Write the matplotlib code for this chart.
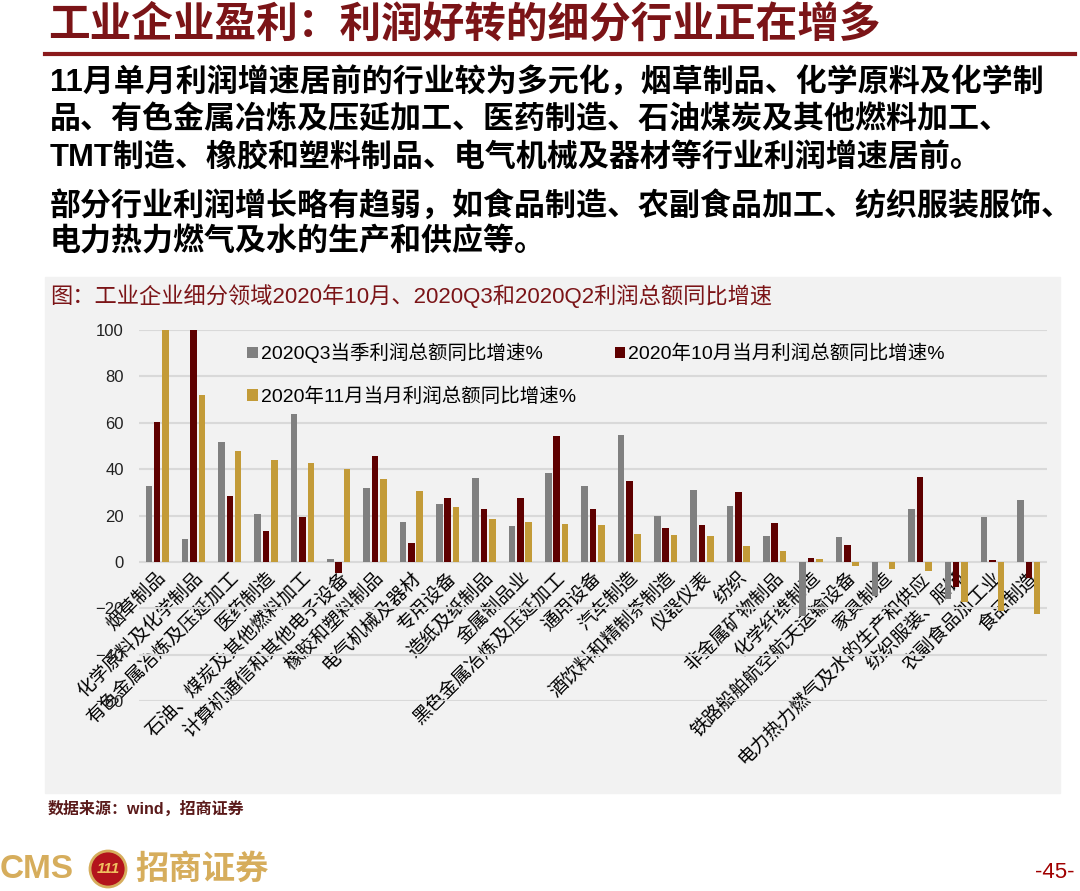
import matplotlib
matplotlib.use("Agg")
import matplotlib.pyplot as plt
import numpy as np
from matplotlib.patches import Rectangle, Ellipse

plt.rcParams['font.family'] = ['Liberation Sans', 'Noto Sans CJK SC', 'DejaVu Sans']

# 行业
industries = ["烟草制品", "化学原料及化学制品", "有色金属冶炼及压延加工", "医药制造",
              "石油、煤炭及其他燃料加工", "计算机通信和其他电子设备", "橡胶和塑料制品",
              "电气机械及器材", "专用设备", "造纸及纸制品", "金属制品业",
              "黑色金属冶炼及压延加工", "通用设备", "汽车制造", "酒饮料和精制茶制造",
              "仪器仪表", "纺织", "非金属矿物制品", "化学纤维制造",
              "铁路船舶航空航天运输设备", "家具制造", "电力热力燃气及水的生产和供应",
              "纺织服装、服饰", "农副食品加工业", "食品制造"]

# 2020Q3当季利润总额同比增速%
q3 = [32.8, 9.9, 51.9, 20.7, 63.8, 1.4, 32.0, 17.1, 25.1, 36.2, 15.4, 38.5, 32.9,
      54.7, 19.8, 31.0, 24.1, 11.2, -23.3, 10.9, -14.9, 22.8, -16.1, 19.5, 26.9]
# 2020年10月当月利润总额同比增速%
oct_ = [60.5, 100.0, 28.2, 13.5, 19.5, -4.9, 45.8, 8.0, 27.7, 22.7, 27.4, 54.5, 22.7,
        34.8, 14.4, 15.9, 30.0, 16.7, 1.7, 7.2, 0.0, 36.6, -10.8, 1.0, -6.8]
# 2020年11月当月利润总额同比增速%
nov = [100.0, 72.0, 47.8, 44.1, 42.5, 40.1, 35.8, 30.7, 23.7, 18.7, 17.2, 16.4, 15.9,
       11.9, 11.5, 11.2, 6.9, 4.7, 1.1, -1.6, -3.2, -3.9, -17.4, -21.4, -22.3]

series_names = ["2020Q3当季利润总额同比增速%", "2020年10月当月利润总额同比增速%",
                "2020年11月当月利润总额同比增速%"]
yticks = [-60, -40, -20, 0, 20, 40, 60, 80, 100]

c_gray = '#808080'
c_red = '#5e0000'
c_gold = '#c39b38'
dark_red = '#7b1417'

W, H = 1080, 891
fig = plt.figure(figsize=(W / 100, H / 100), dpi=100)

# 页面标题
fig.text(48 / W, 1 - 25 / H, "工业企业盈利：利润好转的细分行业正在增多",
         fontsize=30, fontweight='bold', color=dark_red, va='center', ha='left')
fig.add_artist(plt.Line2D([45 / W, 1075 / W], [1 - 54 / H, 1 - 54 / H],
                          color='#8b1a1c', lw=3))

body = ["11月单月利润增速居前的行业较为多元化，烟草制品、化学原料及化学制",
        "品、有色金属冶炼及压延加工、医药制造、石油煤炭及其他燃料加工、",
        "TMT制造、橡胶和塑料制品、电气机械及器材等行业利润增速居前。",
        "部分行业利润增长略有趋弱，如食品制造、农副食品加工、纺织服装服饰、",
        "电力热力燃气及水的生产和供应等。"]
body_y = [82, 120, 158, 206, 243]
for s, yy in zip(body, body_y):
    fig.text(50 / W, 1 - yy / H, s, fontsize=22.3, fontweight='bold',
             color='black', va='center', ha='left')

# 图表底色
fig.add_artist(Rectangle((45 / W, 1 - 793 / H), (1060 - 45) / W, (793 - 277) / H,
                         transform=fig.transFigure, color='#f2f2f2', zorder=0))
fig.text(50 / W, 1 - 296 / H,
         "图：工业企业细分领域2020年10月、2020Q3和2020Q2利润总额同比增速",
         fontsize=16, color=dark_red, va='center', ha='left')

ax = fig.add_axes([139 / W, 1 - 701 / H, 908 / W, 371 / H])
ax.patch.set_alpha(0)

x = np.arange(len(industries))
bw = 0.18
off = 0.23
b1 = ax.bar(x - off, q3, bw, color=c_gray, label=series_names[0])
b2 = ax.bar(x, oct_, bw, color=c_red, label=series_names[1])
b3 = ax.bar(x + off, nov, bw, color=c_gold, label=series_names[2])

ax.set_xlim(-0.5, len(industries) - 0.5)
ax.set_ylim(-60, 100)
ax.set_yticks(yticks)
ax.yaxis.grid(True, color='#d9d9d9', lw=1.5)
ax.set_axisbelow(True)
for sp in ['top', 'right', 'left']:
    ax.spines[sp].set_visible(False)
ax.spines['bottom'].set_position(('data', 0))
ax.spines['bottom'].set_color('none')
ax.tick_params(axis='y', length=0, pad=11, labelsize=12, labelcolor='#222222')
ax.tick_params(axis='x', length=0, pad=5)
ax.set_xticks(x)
ax.set_xticklabels(industries, rotation=45, ha='right', rotation_mode='anchor',
                   fontsize=13.5, color='black')

ax.legend([b1, b3, b2], [series_names[0], series_names[2], series_names[1]],
          ncol=2, frameon=False, loc='upper left', bbox_to_anchor=(0.119, 0.965),
          handlelength=0.55, handleheight=0.55, handletextpad=0.15,
          labelspacing=1.25, columnspacing=2.0, fontsize=14, borderpad=0,
          borderaxespad=0)

# 来源
fig.text(48 / W, 1 - 809 / H, "数据来源：wind，招商证券", fontsize=11.5,
         fontweight='bold', color='#5a1a1a', va='center', ha='left')

# 页脚 logo
gold = '#d6ad5c'
fig.text(0 / W, 1 - 870 / H, "CMS", fontsize=24, fontweight='bold', color=gold,
         va='center', ha='left')
fig.add_artist(Ellipse((108 / W, 1 - 869 / H), 36 / W, 36 / H,
                       transform=fig.transFigure, facecolor='#b3141c',
                       edgecolor=gold, lw=2))
fig.text(108 / W, 1 - 869 / H, "111", fontsize=11, fontweight='bold',
         fontstyle='italic', color='#f0c060', va='center', ha='center')
fig.text(135 / W, 1 - 870 / H, "招商证券", fontsize=24, fontweight='bold',
         color=gold, va='center', ha='left')
fig.text(1075 / W, 1 - 872 / H, "-45-", fontsize=16, color='#a00000',
         va='center', ha='right')

fig.savefig("out.png", dpi=100)
